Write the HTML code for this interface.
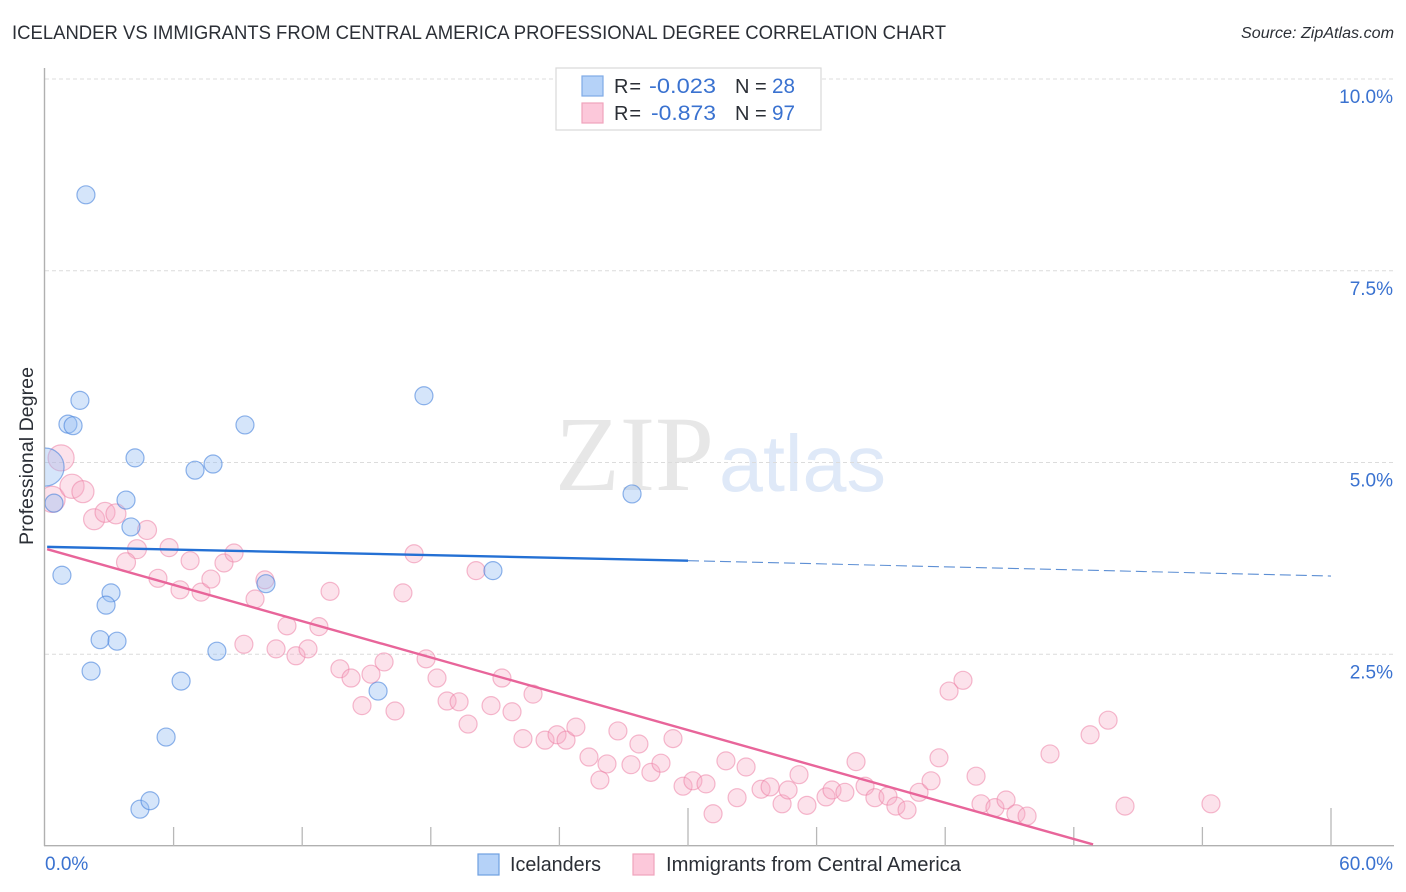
<!DOCTYPE html>
<html lang="en">
<head>
<meta charset="utf-8">
<title>Icelander vs Immigrants from Central America Professional Degree Correlation Chart</title>
<style>
html,body{margin:0;padding:0;background:#fff;}
svg{display:block;font-family:"Liberation Sans",sans-serif;}
</style>
</head>
<body>
<svg id="chart" xmlns="http://www.w3.org/2000/svg" width="1406" height="892" viewBox="0 0 1406 892">
  <defs>
    <clipPath id="plot-clip"><rect x="45" y="60" width="1349" height="786"/></clipPath>
  </defs>
  <rect x="0" y="0" width="1406" height="892" fill="#ffffff"/>
  <text x="12" y="39" font-size="19" fill="#2b2f36" textLength="934" lengthAdjust="spacingAndGlyphs">ICELANDER VS IMMIGRANTS FROM CENTRAL AMERICA PROFESSIONAL DEGREE CORRELATION CHART</text>
  <text x="1241" y="38" font-size="15.5" font-style="italic" fill="#2b2f36" textLength="153" lengthAdjust="spacingAndGlyphs">Source: ZipAtlas.com</text>

  <g>
    <text x="555" y="490" font-family="'Liberation Serif',serif" font-size="107" fill="#e7e7e7" textLength="159" lengthAdjust="spacingAndGlyphs">ZIP</text>
    <text x="719" y="491" font-size="80" fill="#dfe9f8" textLength="167" lengthAdjust="spacingAndGlyphs">atlas</text>
  </g>

  <g id="grid"></g>
  <g id="axes"></g>
  <g id="pink-points" clip-path="url(#plot-clip)"></g>
  <g id="blue-points" clip-path="url(#plot-clip)"></g>
  <g id="trends"></g>

  <text transform="translate(33,456) rotate(-90)" text-anchor="middle" font-size="19" fill="#2b2f36" textLength="178" lengthAdjust="spacingAndGlyphs">Professional Degree</text>

  <g>
    <rect x="556" y="68" width="265" height="62" fill="#ffffff" stroke="#d9d9d9" stroke-width="1.2"/>
    <rect x="582" y="76" width="21" height="20" fill="#b5d2f8" stroke="#7fabe6" stroke-width="1.2"/>
    <rect x="582" y="103" width="21" height="20" fill="#fcc8da" stroke="#f0a3bc" stroke-width="1.2"/>
    <text x="614" y="93" font-size="20" fill="#2b2f36" textLength="27" lengthAdjust="spacing">R =</text>
    <text x="649" y="93" font-size="21" fill="#3a72d0" textLength="67" lengthAdjust="spacingAndGlyphs">-0.023</text>
    <text x="735" y="93" font-size="20" fill="#2b2f36">N =</text>
    <text x="772" y="93" font-size="21" fill="#3a72d0" textLength="23" lengthAdjust="spacingAndGlyphs">28</text>
    <text x="614" y="120" font-size="20" fill="#2b2f36" textLength="27" lengthAdjust="spacing">R =</text>
    <text x="651" y="120" font-size="21" fill="#3a72d0" textLength="65" lengthAdjust="spacingAndGlyphs">-0.873</text>
    <text x="735" y="120" font-size="20" fill="#2b2f36">N =</text>
    <text x="772" y="120" font-size="21" fill="#3a72d0" textLength="23" lengthAdjust="spacingAndGlyphs">97</text>
  </g>

  <g>
    <rect x="478" y="854" width="21" height="21" fill="#b5d2f8" stroke="#6f9fe0" stroke-width="1.2"/>
    <text x="510" y="871" font-size="20" fill="#2b2f36" textLength="91" lengthAdjust="spacingAndGlyphs">Icelanders</text>
    <rect x="633" y="854" width="21" height="21" fill="#fcc8da" stroke="#f0a3bc" stroke-width="1.2"/>
    <text x="666" y="871" font-size="20" fill="#2b2f36" textLength="295" lengthAdjust="spacingAndGlyphs">Immigrants from Central America</text>
  </g>
</svg>

<script>
// Axis domains and tick values
const xDomain = [0, 60];
const yDomain = [0, 10];
const yTickValues = [2.5, 5, 7.5, 10];
const yTickLabels = ["2.5%", "5.0%", "7.5%", "10.0%"];
const xTickValues = [6, 12, 18, 24, 30, 36, 42, 48, 54, 60];
const xMajorTicks = [30, 60];
const xEndLabels = ["0.0%", "60.0%"];

// Icelanders: percent values
const blueX = [1.91,1.63,1.07,1.31,9.33,17.68,4.20,7.00,7.84,3.78,27.39,4.01,0.42,0.00,0.79,3.08,2.85,2.57,3.36,2.15,8.02,6.35,10.31,15.54,5.65,4.43,4.90,20.90];
const blueY = [8.49,5.81,5.50,5.48,5.49,5.87,5.06,4.90,4.98,4.51,4.59,4.16,4.47,4.94,3.53,3.30,3.14,2.69,2.67,2.28,2.54,2.15,3.42,2.02,1.42,0.48,0.59,3.59];
const blueWeight = [1,1,1,1,1,1,1,1,1,1,1,1,1,4.5,1,1,1,1,1,1,1,1,1,1,1,1,1,1];

// Immigrants from Central America: percent values
const pinkX = [0.75,0.33,1.26,1.77,2.29,2.80,3.31,4.76,4.29,3.78,5.79,6.77,5.27,6.30,7.28,7.74,8.35,8.82,9.80,10.26,13.30,16.70,17.22,20.11,11.29,12.78,9.28,10.78,11.71,12.27,13.76,14.28,15.21,15.82,14.79,16.33,17.78,18.29,18.76,19.32,19.74,20.81,21.32,21.79,22.77,22.30,23.33,23.89,24.31,24.77,25.38,26.22,25.89,26.73,27.34,27.71,28.27,28.74,29.30,29.77,30.23,30.84,31.17,31.77,32.29,32.71,33.41,33.83,34.39,34.67,35.18,35.55,36.44,36.72,37.32,37.84,38.26,38.72,39.33,39.70,40.22,40.78,41.34,41.71,42.18,42.83,43.44,43.67,44.32,44.84,45.30,45.82,46.89,48.76,49.60,50.39,54.40];
const pinkY = [5.06,4.52,4.69,4.62,4.26,4.35,4.33,4.12,3.87,3.70,3.89,3.72,3.49,3.34,3.31,3.48,3.69,3.82,3.22,3.47,3.32,3.30,3.81,3.59,2.87,2.86,2.63,2.57,2.48,2.57,2.31,2.19,2.24,2.40,1.83,1.76,2.44,2.19,1.89,1.88,1.59,1.83,2.19,1.75,1.98,1.40,1.38,1.45,1.38,1.55,1.16,1.07,0.86,1.50,1.06,1.33,0.96,1.08,1.40,0.78,0.85,0.81,0.42,1.11,0.63,1.03,0.74,0.77,0.55,0.73,0.93,0.53,0.64,0.73,0.70,1.10,0.78,0.63,0.65,0.52,0.47,0.70,0.85,1.15,2.02,2.16,0.91,0.55,0.50,0.60,0.42,0.39,1.20,1.45,1.64,0.52,0.55];
const pinkWeight = [2.1,2.1,1.8,1.5,1.36,1.23,1.23,1.11,1.11,1.11,1,1,1,1,1,1,1,1,1,1,1,1,1,1,1,1,1,1,1,1,1,1,1,1,1,1,1,1,1,1,1,1,1,1,1,1,1,1,1,1,1,1,1,1,1,1,1,1,1,1,1,1,1,1,1,1,1,1,1,1,1,1,1,1,1,1,1,1,1,1,1,1,1,1,1,1,1,1,1,1,1,1,1,1,1,1,1];

// Trend lines: x and y in percent
const blueTrendX = [0.1, 30, 60];
const blueTrendY = [3.90, 3.72, 3.52];
const pinkTrendX = [0.1, 48.9];
const pinkTrendY = [3.87, 0.02];

const plotLeft = 45, plotRight = 1331, plotBottom = 846, plotTop = 79;
const xScale = v => plotLeft + (v - xDomain[0]) / (xDomain[1] - xDomain[0]) * (plotRight - plotLeft);
const yScale = v => plotBottom - (v - yDomain[0]) / (yDomain[1] - yDomain[0]) * (plotBottom - plotTop);
const baseRadius = 9;
const radius = w => baseRadius * Math.sqrt(w);
const NS = "http://www.w3.org/2000/svg";

function svgEl(tag, parent, attrs) {
  const el = document.createElementNS(NS, tag);
  for (const k in attrs) el.setAttribute(k, attrs[k]);
  parent.appendChild(el);
  return el;
}

const gridG = document.getElementById("grid");
const axesG = document.getElementById("axes");

yTickValues.forEach((v, i) => {
  const line = svgEl("line", gridG, {x1: plotLeft, x2: 1394, y1: yScale(v), y2: yScale(v), stroke: "#dcdcdc", "stroke-width": 1, "stroke-dasharray": "4 3"});
  
  
  const label = svgEl("text", axesG, {x: 1393, y: yScale(v) + 24, "text-anchor": "end", "font-size": 19, fill: "#3a72d0"});
  label.textContent = yTickLabels[i];
  
  
});

const yAxisLine = svgEl("line", axesG, {x1: 44.5, x2: 44.5, y1: 68, y2: 846, stroke: "#b0b0b0", "stroke-width": 1.4});


const xAxisLine = svgEl("line", axesG, {x1: 44, x2: 1394, y1: 845.7, y2: 845.7, stroke: "#b0b0b0", "stroke-width": 1.4});



xTickValues.forEach(v => {
  const top = xMajorTicks.includes(v) ? 808 : 827;
  const tick = svgEl("line", axesG, {x1: xScale(v), x2: xScale(v), y1: top, y2: 846, stroke: "#b8b8b8", "stroke-width": 1.3});
  
  
});

const xLabelStart = svgEl("text", axesG, {x: 45, y: 870, "font-size": 19, fill: "#3a72d0"});
xLabelStart.textContent = xEndLabels[0];


const xLabelEnd = svgEl("text", axesG, {x: 1393, y: 870, "text-anchor": "end", "font-size": 19, fill: "#3a72d0"});
xLabelEnd.textContent = xEndLabels[1];



const pinkG = document.getElementById("pink-points");
pinkX.forEach((v, i) => {
  const c = svgEl("circle", pinkG, {cx: xScale(v), cy: yScale(pinkY[i]), r: radius(pinkWeight[i]), fill: "rgba(247,170,195,0.34)", stroke: "rgba(236,130,165,0.55)", "stroke-width": 1.2});
  
  
});

const blueG = document.getElementById("blue-points");
blueX.forEach((v, i) => {
  const c = svgEl("circle", blueG, {cx: xScale(v), cy: yScale(blueY[i]), r: radius(blueWeight[i]), fill: "rgba(150,190,243,0.4)", stroke: "rgba(70,130,220,0.6)", "stroke-width": 1.2});
  
  
});

const trendG = document.getElementById("trends");
const blueSolid = svgEl("line", trendG, {x1: xScale(blueTrendX[0]), y1: yScale(blueTrendY[0]), x2: xScale(blueTrendX[1]), y2: yScale(blueTrendY[1]), stroke: "#2470d4", "stroke-width": 2.4});


const blueDash = svgEl("line", trendG, {x1: xScale(blueTrendX[1]), y1: yScale(blueTrendY[1]), x2: xScale(blueTrendX[2]), y2: yScale(blueTrendY[2]), stroke: "#5d8fd4", "stroke-width": 1.1, "stroke-dasharray": "11 5"});


const pinkLine = svgEl("line", trendG, {x1: xScale(pinkTrendX[0]), y1: yScale(pinkTrendY[0]), x2: xScale(pinkTrendX[1]), y2: yScale(pinkTrendY[1]), stroke: "#e8659a", "stroke-width": 2.4});


</script>
</body>
</html>
